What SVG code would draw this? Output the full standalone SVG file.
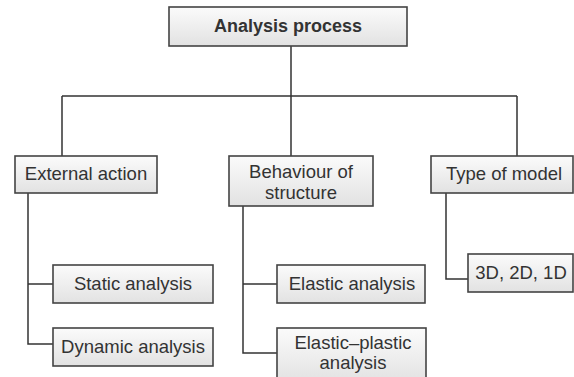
<svg xmlns="http://www.w3.org/2000/svg" width="574" height="377" viewBox="0 0 574 377">
<defs>
<linearGradient id="g" x1="0" y1="0" x2="0" y2="1">
<stop offset="0" stop-color="#fbfbfb"/>
<stop offset="1" stop-color="#e2e2e2"/>
</linearGradient>
<style>
.box{fill:url(#g);stroke:#444;stroke-width:1.6}
.t{font-family:"Liberation Sans",Arial,sans-serif;font-size:18.5px;fill:#333;text-anchor:middle}
.b{font-weight:bold;font-size:18px}
.c{fill:none;stroke:#333;stroke-width:1.5}
</style>
</defs>
<rect width="574" height="377" fill="#fff"/>
<g id="connectors">
<path class="c" d="M291 46V96M62 96H517M62 96V156M291 96V156M517 96V156"/>
<path class="c" d="M28 193V344H53M28 284H53"/>
<path class="c" d="M243 206V353H277M243 284H277"/>
<path class="c" d="M446 193V279H468"/>
</g>
<g id="n-analysis">
<rect class="box" x="169" y="7" width="238" height="39"/>
<text class="t b" x="288" y="32">Analysis process</text>
</g>
<g id="n-external">
<rect class="box" x="15" y="156" width="142" height="37"/>
<text class="t" x="86" y="180">External action</text>
</g>
<g id="n-behaviour">
<rect class="box" x="229" y="156" width="144" height="50"/>
<text class="t" x="301" y="178">Behaviour of</text>
<text class="t" x="301" y="199">structure</text>
</g>
<g id="n-type">
<rect class="box" x="431" y="156" width="142" height="37"/>
<text class="t" x="504" y="180">Type of model</text>
</g>
<g id="n-static">
<rect class="box" x="53" y="265" width="160" height="38"/>
<text class="t" x="133" y="290">Static analysis</text>
</g>
<g id="n-dynamic">
<rect class="box" x="53" y="328" width="160" height="38"/>
<text class="t" x="133" y="353">Dynamic analysis</text>
</g>
<g id="n-elastic">
<rect class="box" x="277" y="265" width="148" height="38"/>
<text class="t" x="352" y="290">Elastic analysis</text>
</g>
<g id="n-elasticplastic">
<rect class="box" x="277" y="328" width="149" height="55"/>
<text class="t" x="353" y="349">Elastic–plastic</text>
<text class="t" x="353" y="369">analysis</text>
</g>
<g id="n-3d">
<rect class="box" x="468" y="254" width="105" height="38"/>
<text class="t" x="521" y="279">3D, 2D, 1D</text>
</g>
</svg>
